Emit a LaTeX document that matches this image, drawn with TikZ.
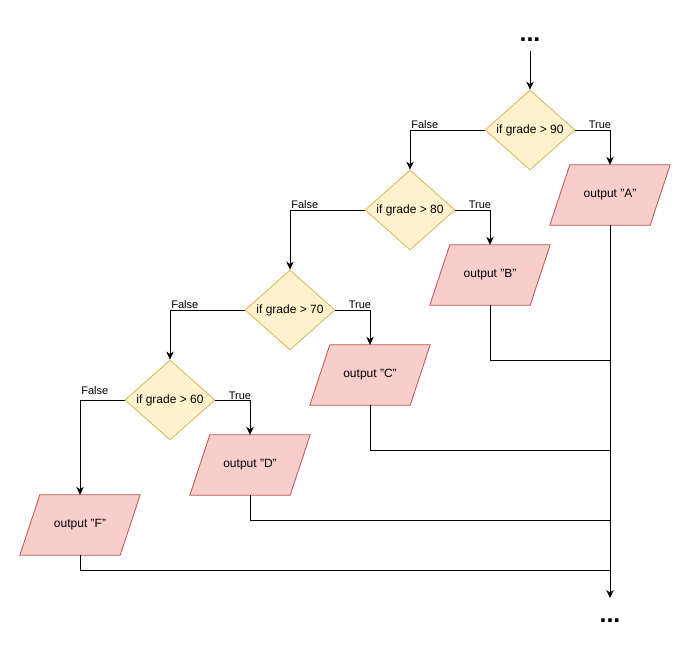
\documentclass[tikz,border=0pt]{standalone}
\usepackage{fontspec}
\setmainfont{Liberation Sans}
\usetikzlibrary{shapes.geometric,arrows.meta}
\pgfdeclarelayer{background}
\pgfsetlayers{background,main}
\definecolor{decfill}{HTML}{FFF2CC}
\definecolor{decdraw}{HTML}{D6B656}
\definecolor{outfill}{HTML}{F8CECC}
\definecolor{outdraw}{HTML}{B85450}
\tikzset{
  decision/.style={shape=diamond, draw=decdraw, fill=decfill, line width=0.8pt,
    minimum width=90pt, minimum height=80pt, inner sep=0pt,
    font=\fontsize{12}{14}\selectfont},
  outnode/.style={shape=rectangle, minimum width=100pt, minimum height=60pt,
    inner sep=0pt, font=\fontsize{12}{14}\selectfont},
  pshape/.style={draw=outdraw, fill=outfill, line width=0.8pt},
  conn/.style={draw=black, line width=0.8pt, -{Stealth[length=8pt,width=7.5pt,inset=2.5pt]}},
  plain/.style={draw=black, line width=0.8pt},
  lblF/.style={anchor=base west, inner sep=0pt, xshift=1pt, yshift=1.5pt,
    font=\fontsize{11}{13}\selectfont},
  lblT/.style={anchor=base east, inner sep=0pt, xshift=1.5pt, yshift=1.5pt,
    font=\fontsize{11}{13}\selectfont},
  dots/.style={anchor=base, inner sep=0pt, font=\fontsize{25}{30}\selectfont\bfseries}
}
\begin{document}
\begin{tikzpicture}[x=1pt,y=-1pt]
\useasboundingbox (0,0) rectangle (691,650);

% top and bottom ellipses
\node[dots] (dtop) at (530,42) {...};
\node[dots] (dbot) at (610,622) {...};
\coordinate (start) at (530,51);
\coordinate (finish) at (610,598);

% decisions
\node[decision] (d90) at (530,130) {if grade > 90};
\node[decision] (d80) at (410,210) {if grade > 80};
\node[decision] (d70) at (290,310) {if grade > 70};
\node[decision] (d60) at (170,400) {if grade > 60};

% outputs
\node[outnode] (A) at (610,195) {output "A"};
\node[outnode] (B) at (490,275) {output "B"};
\node[outnode] (C) at (370,375) {output "C"};
\node[outnode] (D) at (250,465) {output "D"};
\node[outnode] (F) at (80,525) {output "F"};

\begin{pgfonlayer}{background}
\foreach \n in {A,B,C,D,F}{
  \path[pshape] ([xshift=-10pt]\n.south west) -- ([xshift=-10pt]\n.south east)
    -- ([xshift=10pt]\n.north east) -- ([xshift=10pt]\n.north west) -- cycle;
}
\end{pgfonlayer}

% connectors
\draw[conn] (start) -- (d90.north);

\draw[conn] (d90.west) -| node[lblF] {False} (d80.north);
\draw[conn] (d90.east) -| node[lblT] {True} (A.north);

\draw[conn] (d80.west) -| node[lblF] {False} (d70.north);
\draw[conn] (d80.east) -| node[lblT] {True} (B.north);

\draw[conn] (d70.west) -| node[lblF] {False} (d60.north);
\draw[conn] (d70.east) -| node[lblT] {True} (C.north);

\draw[conn] (d60.west) -| node[lblF, yshift=4.5pt] {False} (F.north);
\draw[conn] (d60.east) -| node[lblT, yshift=-0.5pt] {True} (D.north);

% merging lines
\coordinate (jB) at (610,360);
\coordinate (jC) at (610,450);
\coordinate (jD) at (610,520);
\coordinate (jF) at (610,570);
\draw[plain] (B.south) |- (jB);
\draw[plain] (C.south) |- (jC);
\draw[plain] (D.south) |- (jD);
\draw[plain] (F.south) |- (jF);
\draw[conn] (A.south) -- (finish);
\end{tikzpicture}
\end{document}
